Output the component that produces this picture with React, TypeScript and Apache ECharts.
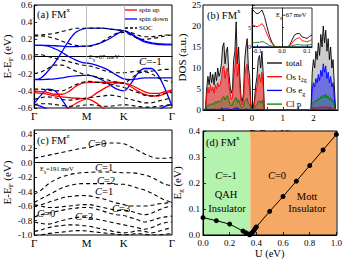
import React, { useEffect, useRef } from "react";
import * as echarts from "echarts";

const FONT = "'Liberation Serif', 'Times New Roman', serif";

// ---- Band panels: k-path sample positions (fraction of Γ-M-K-Γ) ----
const kPath = [0, 0.05, 0.1, 0.15, 0.2, 0.25, 0.3, 0.35, 0.4, 0.45, 0.5, 0.55, 0.6, 0.65, 0.7, 0.75, 0.8, 0.85, 0.9, 0.95, 1];
const kTickPos = [0, 0.38, 0.65, 1];
const kTickLabels = ["Γ", "M", "K", "Γ"];

// (a) spin down bands (eV)
const dnRise = [-0.27, -0.25, -0.17, -0.07, 0.05, 0.18, 0.28, 0.32, 0.33, 0.33, 0.33, 0.32, 0.31, 0.3, 0.26, 0.21, 0.17, 0.15, 0.14, 0.14, 0.14];
const dnFall = [0.13, 0.13, 0.12, 0.09, 0.05, 0.0, -0.04, -0.07, -0.08, -0.1, -0.13, -0.17, -0.22, -0.26, -0.27, -0.26, -0.25, -0.25, -0.25, -0.25, -0.25];
const dnFlat = [0.13, 0.13, 0.13, 0.125, 0.12, 0.115, 0.115, 0.12, 0.125, 0.14, 0.17, 0.21, 0.26, 0.3, 0.27, 0.22, 0.18, 0.16, 0.15, 0.14, 0.14];
const dnBump = [-0.27, -0.27, -0.265, -0.26, -0.25, -0.235, -0.225, -0.22, -0.22, -0.24, -0.28, -0.33, -0.38, -0.4, -0.32, -0.2, -0.14, -0.14, -0.22, -0.38, -0.58];
const dnHump = [-0.55, -0.45, -0.38, -0.4, -0.5, -0.62, -0.75, null, null, null, null, null, null, null, null, null, null, null, null, null, null];
const dnLowL = [-0.56, -0.58, -0.62, -0.68, -0.75, null, null, null, null, null, null, null, null, null, null, null, null, null, null, null, null];
const dnLowR = [null, null, null, null, null, null, null, null, null, null, null, null, null, null, null, null, -0.78, -0.7, -0.63, -0.58, -0.56];
// (a) spin up bands
const upA = [-0.4, -0.41, -0.42, -0.44, -0.44, -0.41, -0.35, -0.31, -0.3, -0.3, -0.3, -0.3, -0.3, -0.31, -0.33, -0.37, -0.41, -0.43, -0.43, -0.41, -0.39];
const upB = [-0.42, -0.43, -0.44, -0.46, -0.47, -0.48, -0.485, -0.49, -0.5, -0.54, -0.6, -0.66, null, null, null, null, null, null, null, null, null];
const upC = [null, null, null, null, -0.64, -0.6, -0.55, -0.51, -0.48, -0.43, -0.38, -0.34, -0.31, -0.31, -0.35, -0.4, -0.44, -0.46, -0.46, -0.43, -0.4];
// (a) SOC bands
const soc1 = [0.24, 0.24, 0.23, 0.21, 0.18, 0.15, 0.13, 0.12, 0.12, 0.14, 0.18, 0.23, 0.27, 0.28, 0.25, 0.21, 0.2, 0.21, 0.22, 0.24, 0.25];
const soc2 = [0.25, 0.25, 0.26, 0.27, 0.29, 0.31, 0.33, 0.33, 0.33, 0.33, 0.33, 0.32, 0.31, 0.3, 0.28, 0.25, 0.23, 0.23, 0.24, 0.25, 0.25];
const soc3 = [0.02, 0.02, 0.0, -0.02, -0.04, -0.06, -0.08, -0.1, -0.11, -0.13, -0.16, -0.18, -0.19, -0.19, -0.18, -0.17, -0.17, -0.17, -0.16, -0.15, -0.15];
const soc4 = [-0.2, -0.18, -0.14, -0.1, -0.1, -0.13, -0.17, -0.2, -0.22, -0.24, -0.26, -0.28, -0.3, -0.31, -0.26, -0.2, -0.18, -0.2, -0.25, -0.28, -0.3];
const soc5 = [-0.38, -0.38, -0.39, -0.4, -0.4, -0.37, -0.33, -0.3, -0.29, -0.3, -0.31, -0.32, -0.34, -0.36, -0.39, -0.42, -0.45, -0.46, -0.45, -0.43, -0.42];
const soc6 = [-0.5, -0.48, -0.47, -0.48, -0.5, -0.51, -0.5, -0.49, -0.48, -0.47, -0.46, -0.45, -0.46, -0.48, -0.5, -0.52, -0.54, -0.54, -0.52, -0.5, -0.48];
const soc7 = [-0.56, -0.55, -0.55, -0.56, -0.57, -0.58, -0.58, -0.57, -0.56, -0.57, -0.58, -0.58, -0.57, -0.56, -0.57, -0.58, -0.59, -0.59, -0.58, -0.57, -0.56];

// (c) FM^z SOC bands
const cB1 = [0.06, 0.08, 0.1, 0.12, 0.14, 0.16, 0.18, 0.2, 0.21, 0.24, 0.26, 0.27, 0.27, 0.26, 0.22, 0.17, 0.12, 0.08, 0.06, 0.06, 0.07];
const cB2 = [-0.44, -0.38, -0.3, -0.24, -0.2, -0.17, -0.15, -0.14, -0.135, -0.13, -0.13, -0.13, -0.135, -0.14, -0.14, -0.15, -0.17, -0.2, -0.25, -0.3, -0.32];
const cB3 = [-0.55, -0.5, -0.45, -0.4, -0.35, -0.32, -0.3, -0.29, -0.29, -0.29, -0.29, -0.29, -0.3, -0.3, -0.32, -0.35, -0.38, -0.42, -0.47, -0.52, -0.55];
const cB4 = [-0.6, -0.58, -0.55, -0.52, -0.49, -0.47, -0.46, -0.455, -0.46, -0.48, -0.5, -0.53, -0.56, -0.58, -0.6, -0.6, -0.6, -0.59, -0.57, -0.56, -0.55];
const cB5 = [-0.58, -0.6, -0.62, -0.62, -0.61, -0.6, -0.59, -0.58, -0.58, -0.6, -0.62, -0.64, -0.66, -0.66, -0.67, -0.7, -0.72, -0.7, -0.66, -0.62, -0.6];
const cB6 = [-0.75, -0.72, -0.7, -0.68, -0.66, -0.64, -0.63, -0.62, -0.62, -0.64, -0.67, -0.7, -0.72, -0.73, -0.76, -0.79, -0.82, -0.8, -0.77, -0.75, -0.74];
const cB7 = [-0.82, -0.84, -0.85, -0.83, -0.8, -0.78, -0.76, -0.75, -0.76, -0.78, -0.8, -0.82, -0.84, -0.86, -0.88, -0.9, -0.92, -0.9, -0.86, -0.83, -0.82];
const cB8 = [-0.95, -0.93, -0.9, -0.88, -0.87, -0.86, -0.86, -0.87, -0.88, -0.9, -0.92, -0.94, -0.96, -0.97, -0.96, -0.94, -0.95, -0.97, -0.95, -0.92, -0.9];
const cB9 = [-1.02, -1.0, -0.98, -0.97, -0.96, -0.95, -0.94, -0.94, -0.95, -0.96, -0.97, -0.98, -0.99, -1.0, -0.99, -0.98, -0.99, -1.0, -1.0, -0.99, -0.98];

// ---- (b) DOS ----
const dosE = [
  -1.56, -1.52, -1.48, -1.44, -1.4, -1.36, -1.32, -1.28, -1.24, -1.2,
  -1.16, -1.12, -1.08, -1.04, -1.0, -0.96, -0.92, -0.88, -0.84, -0.8,
  -0.76, -0.72, -0.68, -0.64, -0.6, -0.56, -0.52, -0.48, -0.44, -0.4,
  -0.36, -0.32, -0.28, -0.24, -0.2, -0.16, -0.12, -0.08, -0.04, 0.0,
  0.04, 0.08, 0.12, 0.16, 0.2, 0.24, 0.28, 0.32, 0.36, 0.4,
  1.92, 1.96, 2.0, 2.04, 2.08, 2.12, 2.16, 2.2, 2.24, 2.28,
  2.32, 2.36, 2.4, 2.44, 2.48, 2.52, 2.56, 2.6, 2.64, 2.68, 2.72,
];
const dosTotal = [
  0, 0.5, 5, 8, 6, 9, 6.5, 8.5, 6, 9,
  7, 10, 8, 9, 11, 15, 16, 11, 14, 15,
  9, 6, 4, 5, 12, 14, 21, 11, 15, 8,
  3, 2, 4, 12, 15, 17, 10, 8, 1.5, 0,
  0.5, 2.5, 6, 8, 12, 13, 10, 14, 9, 0,
  0, 9, 12, 10, 14, 12, 16, 13, 18, 15,
  20, 16, 19, 14, 17, 12, 15, 10, 12, 6, 0,
];
const dosT2g = [
  0, 0.3, 3.5, 5.5, 4, 6, 4.5, 5.5, 4, 6,
  5, 6.5, 5.5, 6, 7.5, 10, 10.5, 7.5, 9.5, 10,
  6, 4, 2.5, 3, 8, 10, 15, 8, 11, 5.5,
  2, 1.2, 2.5, 8, 10, 11, 6.5, 5.5, 1, 0,
  0.3, 1.8, 4, 5.5, 8, 8.5, 6.5, 9, 6, 0,
  0, 0.3, 0.5, 0.4, 0.6, 0.5, 0.7, 0.5, 0.8, 0.6,
  0.9, 0.7, 0.9, 0.6, 0.8, 0.5, 0.7, 0.4, 0.5, 0.2, 0,
];
const dosEg = [
  0, 0, 0.1, 0.2, 0.1, 0.2, 0.1, 0.2, 0.1, 0.2,
  0.1, 0.2, 0.1, 0.2, 0.2, 0.3, 0.3, 0.2, 0.3, 0.3,
  0.2, 0.1, 0.1, 0.2, 0.3, 0.4, 0.5, 0.3, 0.3, 0.2,
  0.1, 0.05, 0.1, 0.2, 0.2, 0.2, 0.1, 0.1, 0, 0,
  0, 0, 0.1, 0.1, 0.1, 0.1, 0.1, 0.1, 0.1, 0,
  0, 5, 6.5, 5.5, 7.5, 6.5, 8.5, 7, 9.5, 8,
  11, 9, 10.5, 7.5, 9, 6.5, 8, 5.5, 6.5, 3, 0,
];
const dosClp = [
  0, 0.1, 0.8, 1.2, 1.0, 1.5, 1.2, 1.6, 1.3, 2.0,
  1.6, 2.2, 1.8, 2.0, 2.4, 3.0, 3.2, 2.4, 3.0, 3.4,
  2.2, 1.6, 1.0, 1.2, 2.2, 2.4, 3.0, 1.8, 2.5, 1.5,
  0.7, 0.5, 0.9, 2.0, 2.4, 2.8, 1.6, 1.2, 0.3, 0,
  0.1, 0.4, 1.0, 1.3, 2.0, 2.2, 1.6, 2.3, 1.5, 0,
  0, 1.5, 2.0, 1.8, 2.4, 2.1, 2.8, 2.4, 3.2, 2.8,
  3.6, 3.0, 3.8, 2.8, 3.4, 2.4, 3.0, 2.0, 2.4, 1.0, 0,
];
// inset (zoom near the gap)
const insetE = [-0.12, -0.11, -0.1, -0.09, -0.08, -0.07, -0.06, -0.05, -0.04, -0.03, -0.02, -0.01, 0, 0.01, 0.02, 0.03, 0.04, 0.05, 0.06, 0.07, 0.08, 0.09, 0.1, 0.11, 0.12];
const insetTotal = [9.8, 9.0, 8.5, 8.8, 9.5, 7.8, 5.2, 2.8, 1.2, 0.2, 0, 0, 0, 0, 0, 0.4, 1.8, 3.1, 3.4, 3.5, 2.6, 2.4, 2.2, 2.7, 3.1];
const insetT2g = [5.8, 5.5, 5.2, 5.5, 6.0, 5.0, 3.3, 1.9, 0.9, 0.1, 0, 0, 0, 0, 0, 0.2, 1.0, 1.8, 2.2, 2.4, 1.6, 1.5, 1.3, 1.6, 1.9];
const insetEg = [0, 0, 0, 0, 0, 0, 0, 0, 0, 0, 0, 0, 0, 0, 0, 0, 0, 0, 0, 0, 0, 0, 0, 0, 0];
const insetClp = [1.1, 1.1, 1.2, 1.2, 1.4, 1.2, 0.8, 0.4, 0.2, 0.05, 0, 0, 0, 0, 0, 0.05, 0.3, 0.5, 0.6, 0.6, 0.5, 0.5, 0.5, 0.6, 0.6];

// ---- (d) gap vs U ----
const uVals = [0, 0.1, 0.2, 0.3, 0.32, 0.34, 0.35, 0.36, 0.37, 0.38, 0.39, 0.4, 0.5, 0.6, 0.7, 0.8, 0.9, 1.0];
const gapVals = [0.067, 0.055, 0.042, 0.015, 0.009, 0.004, 0.001, 0.004, 0.01, 0.016, 0.024, 0.031, 0.091, 0.148, 0.207, 0.267, 0.327, 0.387];
const uBoundary = 0.355;

// legend entries
const legendA = [
  { label: "spin up", color: "#ff0000", dash: null as number[] | null },
  { label: "spin down", color: "#0000ff", dash: null as number[] | null },
  { label: "SOC", color: "#000", dash: [3, 2] },
];
const legendB = [
  { label: "{n|total}", color: "#000" },
  { label: "{n|Os t}{sub|2g}", color: "#ff0000" },
  { label: "{n|Os e}{sub|g}", color: "#0000ff" },
  { label: "{n|Cl p}", color: "#008000" },
];

const BLUE = "#0000ff";
const RED = "#ff0000";
const GREEN = "#008000";

const rich = (size: number) => ({
  n: { fontSize: size, fontFamily: FONT, color: "#000", lineHeight: size + 4 },
  i: { fontSize: size, fontFamily: FONT, color: "#000", fontStyle: "italic", lineHeight: size + 4 },
  sup: { fontSize: Math.round(size * 0.62), fontFamily: FONT, color: "#000", verticalAlign: "top", lineHeight: Math.round(size * 0.6) },
  sub: { fontSize: Math.round(size * 0.62), fontFamily: FONT, color: "#000", verticalAlign: "bottom", lineHeight: Math.round(size * 0.6) },
});

const txt = (x: number, y: number, text: string, size: number, align = "left") => ({
  type: "text",
  x,
  y,
  silent: true,
  z: 50,
  style: { text, fontFamily: FONT, fontSize: size, fill: "#000", align, verticalAlign: "middle", rich: rich(size) },
});

const seg = (x1: number, x2: number, y: number, color: string, width: number, dash: number[] | null) => ({
  type: "line",
  silent: true,
  z: 50,
  shape: { x1, y1: y, x2, y2: y },
  style: { stroke: color, lineWidth: width, lineDash: dash || undefined },
});

const band = (name: string, vals: (number | null)[], color: string, dashed: boolean, ax: number) => ({
  type: "line",
  name,
  xAxisIndex: ax,
  yAxisIndex: ax,
  data: kPath.map((k, i) => [k, vals[i]]).filter((p) => p[1] !== null),
  smooth: 0.35,
  symbol: "none",
  silent: true,
  z: dashed ? 4 : 3,
  lineStyle: { color, width: dashed ? 1.1 : 1.3, type: dashed ? [4, 3] : "solid" },
  itemStyle: { color },
});

const dos = (name: string, xs: number[], ys: number[], color: string, ax: number, fill: number) => ({
  type: "line",
  name,
  xAxisIndex: ax,
  yAxisIndex: ax,
  data: xs.map((x, i) => [x, ys[i]]),
  symbol: "none",
  silent: true,
  lineStyle: { color, width: 0.9 },
  itemStyle: { color },
  areaStyle: fill > 0 ? { color, opacity: fill } : undefined,
});

const kFmt = (v: number) => {
  const i = kTickPos.findIndex((p) => Math.abs(p - v) < 1e-6);
  return i >= 0 ? kTickLabels[i] : "";
};

const lbl = (size: number, extra: any = {}) => ({ fontFamily: FONT, fontSize: size, color: "#000", ...extra });
const axLine = { show: true, lineStyle: { color: "#000", width: 1 } };
const tickIn = { show: true, inside: true, length: 3, lineStyle: { color: "#000", width: 0.8 } };
const nameStyle = (size: number) => ({ fontFamily: FONT, fontSize: size, color: "#000", rich: rich(size) });

const cTicks = [-1, -0.8, -0.6, -0.4, -0.2, 0, 0.2, 0.4];

const option: any = {
  animation: false,
  backgroundColor: "#fff",
  grid: [
    { left: 33, top: 5, width: 139, height: 103, show: true, borderColor: "#000", borderWidth: 1 },
    { left: 203, top: 5, width: 135, height: 105, show: true, borderColor: "#000", borderWidth: 1 },
    { left: 252, top: 8, width: 60, height: 39, show: true, borderColor: "#000", borderWidth: 0.8, backgroundColor: "#fff" },
    { left: 33, top: 130, width: 139, height: 105, show: true, borderColor: "#000", borderWidth: 1 },
    { left: 203, top: 131, width: 134, height: 104, show: false },
  ],
  xAxis: [
    { gridIndex: 0, type: "value", min: 0, max: 1, axisLine: axLine, axisTick: { show: false }, splitLine: { show: false },
      axisLabel: lbl(11, { customValues: kTickPos, formatter: kFmt, margin: 2 }) },
    { gridIndex: 1, type: "value", min: -1.6, max: 2.8, axisLine: axLine, splitLine: { show: false },
      axisTick: { ...tickIn, customValues: [-1.5, -1, -0.5, 0, 0.5, 1, 1.5, 2, 2.5] },
      axisLabel: lbl(9, { customValues: [-1, 0, 1, 2], formatter: (v: number) => String(v), margin: 3 }),
      name: "{n|E-E}{sub|F}{n| (eV)}", nameLocation: "middle", nameGap: 16, nameTextStyle: nameStyle(10.5) },
    { gridIndex: 2, type: "value", min: -0.12, max: 0.12, axisLine: { show: true, lineStyle: { color: "#000", width: 0.8 } }, splitLine: { show: false },
      axisTick: { ...tickIn, length: 2, customValues: [-0.1, 0, 0.1] },
      axisLabel: lbl(6, { customValues: [-0.1, 0, 0.1], formatter: (v: number) => v.toFixed(1), margin: 1 }) },
    { gridIndex: 3, type: "value", min: 0, max: 1, axisLine: axLine, axisTick: { show: false }, splitLine: { show: false },
      axisLabel: lbl(11, { customValues: kTickPos, formatter: kFmt, margin: 2 }) },
    { gridIndex: 4, type: "value", min: 0, max: 1, interval: 0.2, axisLine: axLine, splitLine: { show: false }, z: 5,
      axisTick: tickIn, axisLabel: lbl(9, { formatter: (v: number) => v.toFixed(1), margin: 3 }),
      name: "U (eV)", nameLocation: "middle", nameGap: 13, nameTextStyle: nameStyle(10.5) },
  ],
  yAxis: [
    { gridIndex: 0, type: "value", min: -0.6, max: 0.6, interval: 0.2, axisLine: axLine, axisTick: tickIn, splitLine: { show: false },
      axisLabel: lbl(9, { formatter: (v: number) => v.toFixed(1), margin: 2 }),
      name: "{n|E-E}{sub|F}{n| (eV)}", nameLocation: "middle", nameGap: 20, nameRotate: 90, nameTextStyle: nameStyle(11) },
    { gridIndex: 1, type: "value", min: 0, max: 25, interval: 5, axisLine: axLine, axisTick: tickIn, splitLine: { show: false },
      axisLabel: lbl(9, { margin: 2 }),
      name: "DOS (a.u.)", nameLocation: "middle", nameGap: 16, nameRotate: 90, nameTextStyle: nameStyle(11) },
    { gridIndex: 2, type: "value", min: 0, max: 10, axisLine: { show: true, lineStyle: { color: "#000", width: 0.8 } }, splitLine: { show: false },
      axisTick: { ...tickIn, length: 2, customValues: [0, 5] },
      axisLabel: lbl(6, { customValues: [0, 5], margin: 1 }) },
    { gridIndex: 3, type: "value", min: -1.0, max: 0.45, axisLine: axLine, splitLine: { show: false },
      axisTick: { ...tickIn, customValues: cTicks },
      axisLabel: lbl(9, { customValues: cTicks, formatter: (v: number) => v.toFixed(1), margin: 2 }),
      name: "{n|E-E}{sub|F}{n| (eV)}", nameLocation: "middle", nameGap: 20, nameRotate: 90, nameTextStyle: nameStyle(11) },
    { gridIndex: 4, type: "value", min: 0, max: 0.4, interval: 0.1, axisLine: axLine, axisTick: tickIn, splitLine: { show: false }, z: 5,
      axisLabel: lbl(9, { formatter: (v: number) => v.toFixed(1), margin: 3 }),
      name: "{n|E}{sub|g}{n| (eV)}", nameLocation: "middle", nameGap: 15, nameRotate: 90, nameTextStyle: nameStyle(11) },
  ],
  graphic: [
    txt(37, 14, "{n|(a) FM}{sup|x}", 10.5),
    txt(89, 56, "{n|E}{sub|g}{n|=67 meV}", 6.5),
    txt(139, 61, "{i|C}{n|=-1}", 11),
    txt(207, 15, "{n|(b) FM}{sup|x}", 10.5),
    txt(276, 14, "{n|E}{sub|g}{n|=67 meV}", 6.5),
    txt(37, 140, "{n|(c) FM}{sup|z}", 10.5),
    txt(88, 143, "{i|C}{n|=0}", 10.5),
    txt(40, 168, "{n|E}{sub|g}{n|=191 meV}", 6.5),
    txt(95, 167, "{i|C}{n|=1}", 10.5),
    txt(97, 180, "{i|C}{n|=2}", 10.5),
    txt(95, 191, "{i|C}{n|=1}", 10.5),
    txt(37, 213, "{i|C}{n|=0}", 10.5),
    txt(75, 216, "{i|C}{n|=2}", 10.5),
    txt(112, 208, "{i|C}{n|=3}", 10.5),
    txt(206, 142, "{n|(d) FM}{sup|x}", 10.5),
    txt(226, 175, "{i|C}{n|=-1}", 10.5, "center"),
    txt(226, 194, "{n|QAH}", 10.5, "center"),
    txt(227, 208, "{n|Insulator}", 10.5, "center"),
    txt(277, 175, "{i|C}{n|=0}", 10.5, "center"),
    txt(307, 196, "{n|Mott}", 10.5, "center"),
    txt(307, 208, "{n|Insulator}", 10.5, "center"),
    // legend (a)
    ...legendA.flatMap((it, i) => [
      seg(125, 137, 10 + i * 9, it.color, 1.3, it.dash),
      txt(139, 10 + i * 9, "{n|" + it.label + "}", 7),
    ]),
    // legend (b)
    ...legendB.flatMap((it, i) => [
      seg(267, 282, 63 + i * 13.7, it.color, 1.3, null),
      txt(286, 63 + i * 13.7, it.label, 9),
    ]),
    { type: "rect", z: 60, silent: true, shape: { x: 203, y: 131, width: 134, height: 104 }, style: { fill: "none", stroke: "#000", lineWidth: 1 } },
  ],
  series: [
    // (a)
    { ...band("spin down", dnRise, BLUE, false, 0),
      markLine: { silent: true, symbol: ["none", "none"], label: { show: false }, lineStyle: { color: "#b0b0b0", width: 0.8, type: "solid" },
        data: [{ xAxis: kTickPos[1] }, { xAxis: kTickPos[2] }] } },
    band("spin down", dnFall, BLUE, false, 0),
    band("spin down", dnFlat, BLUE, false, 0),
    band("spin down", dnBump, BLUE, false, 0),
    band("spin down", dnHump, BLUE, false, 0),
    band("spin down", dnLowL, BLUE, false, 0),
    band("spin down", dnLowR, BLUE, false, 0),
    band("spin up", upA, RED, false, 0),
    band("spin up", upB, RED, false, 0),
    band("spin up", upC, RED, false, 0),
    band("SOC", soc1, "#000", true, 0),
    band("SOC", soc2, "#000", true, 0),
    band("SOC", soc3, "#000", true, 0),
    band("SOC", soc4, "#000", true, 0),
    band("SOC", soc5, "#000", true, 0),
    band("SOC", soc6, "#000", true, 0),
    band("SOC", soc7, "#000", true, 0),
    // (b)
    dos("total", dosE, dosTotal, "#000", 1, 0.2),
    dos("Os t2g", dosE, dosT2g, RED, 1, 0.45),
    dos("Os eg", dosE, dosEg, BLUE, 1, 0.45),
    dos("Cl p", dosE, dosClp, GREEN, 1, 0.25),
    // inset
    dos("total", insetE, insetTotal, "#000", 2, 0),
    dos("Os t2g", insetE, insetT2g, RED, 2, 0),
    dos("Os eg", insetE, insetEg, "#000080", 2, 0),
    dos("Cl p", insetE, insetClp, GREEN, 2, 0),
    // (c)
    ...[cB1, cB2, cB3, cB4, cB5, cB6, cB7, cB8, cB9].map((b) => band("FMz", b, "#000", true, 3)),
    // (d)
    {
      type: "line",
      name: "gap",
      xAxisIndex: 4,
      yAxisIndex: 4,
      data: uVals.map((u, i) => [u, gapVals[i]]),
      symbol: "circle",
      symbolSize: 5,
      silent: true,
      lineStyle: { color: "#000", width: 1 },
      itemStyle: { color: "#000" },
      markArea: {
        silent: true,
        data: [
          [{ xAxis: 0, itemStyle: { color: "#b4f3ae" } }, { xAxis: uBoundary }],
          [{ xAxis: uBoundary, itemStyle: { color: "#f6a964" } }, { xAxis: 1 }],
        ],
      },
    },
  ],
};

export default function App() {
  const ref = useRef<HTMLDivElement>(null);
  useEffect(() => {
    const chart = echarts.init(ref.current as HTMLDivElement, null, { renderer: "svg" });
    chart.setOption(option);
    return () => chart.dispose();
  }, []);
  return <div ref={ref} style={{ position: "absolute", left: 0, top: 0, width: 345, height: 260 }} />;
}
